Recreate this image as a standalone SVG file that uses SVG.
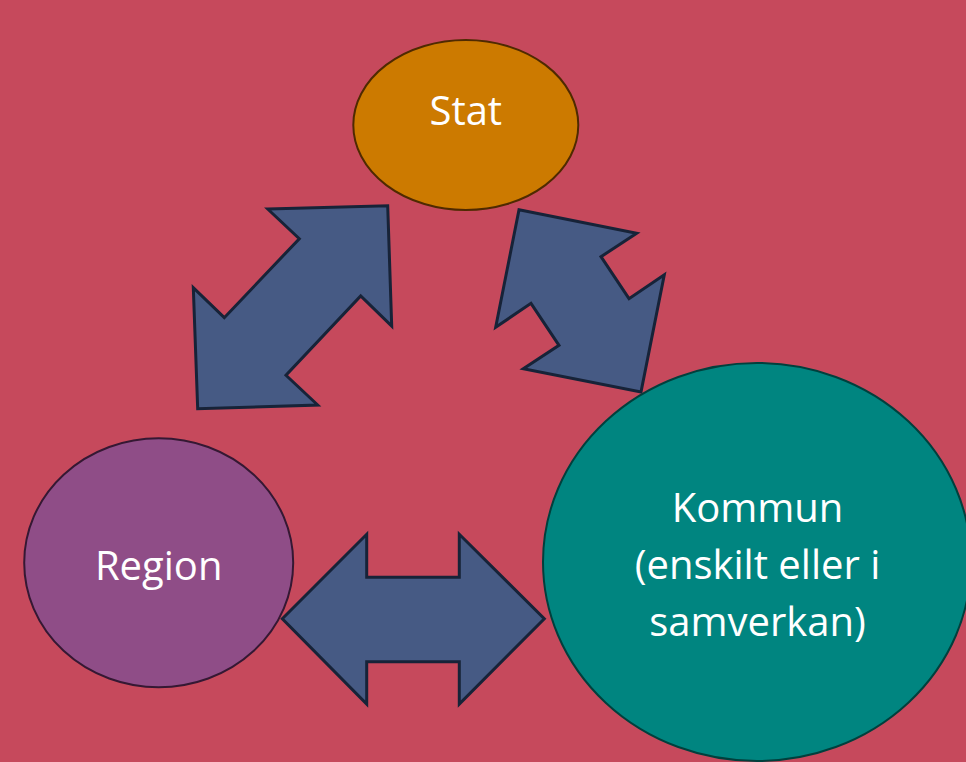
<svg xmlns="http://www.w3.org/2000/svg" width="966" height="762" viewBox="0 0 966 762">
<style>
.bg{fill:#C6495C}
.arrow{fill:#465A84;stroke:#172338;stroke-width:3;stroke-linejoin:miter}
.lbl{font-family:"Open Sans","Noto Sans",sans-serif;font-size:40px;fill:#FFFFFF;text-anchor:middle}
</style>
<rect class="bg" x="0" y="0" width="966" height="762"/>
<g id="connectors">
<polygon id="arrow-stat-region" class="arrow" points="267.7,209 387.7,205.7 391.7,326 360.7,296 286,375.3 317.7,405 197.7,408.7 193.3,287.7 224.3,317.7 299.3,238.7"/>
<polygon id="arrow-stat-kommun" class="arrow" points="519,209.7 636.7,233.3 601,256.7 629,298.7 664.3,274.7 641,392 523.3,368.7 559,345.3 531,303.3 495.7,327.3"/>
<polygon id="arrow-region-kommun" class="arrow" points="282.3,618.7 366.7,534.3 366.7,577.3 459.3,577.3 459.3,534.3 544.3,618.7 459.3,704 459.3,661.7 366.7,661.7 366.7,704"/>
</g>
<g id="node-stat">
<ellipse cx="465.8" cy="125" rx="112.5" ry="85" fill="#CC7A00" stroke="#4F2A00" stroke-width="2"/>
<text class="lbl" x="465.8" y="125">Stat</text>
</g>
<g id="node-region">
<ellipse cx="158.7" cy="562.8" rx="134.5" ry="124.5" fill="#8F4D87" stroke="#351833" stroke-width="2"/>
<text class="lbl" x="158.7" y="580">Region</text>
</g>
<g id="node-kommun">
<ellipse cx="757" cy="562" rx="214" ry="199" fill="#008580" stroke="#00403D" stroke-width="2"/>
<text class="lbl" x="757.5" y="521.7">Kommun</text>
<text class="lbl" x="757.5" y="579">(enskilt eller i</text>
<text class="lbl" x="757.5" y="636">samverkan)</text>
</g>
</svg>
